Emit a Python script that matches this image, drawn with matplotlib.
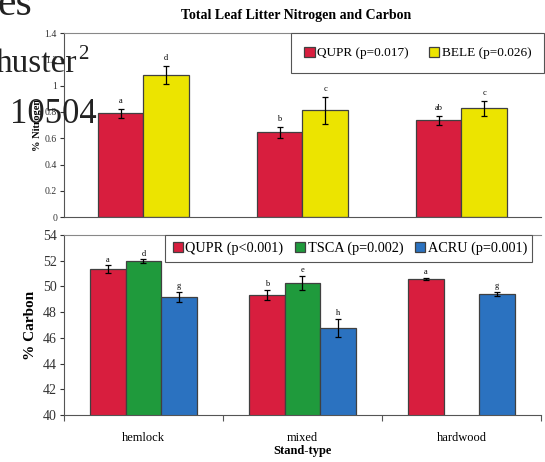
import matplotlib
matplotlib.use("Agg")
import matplotlib.pyplot as plt
from matplotlib.patches import Rectangle
import numpy as np

plt.rcParams['font.family'] = ['Liberation Serif', 'DejaVu Serif']

stands = ["hemlock", "mixed", "hardwood"]

# Nitrogen
n_qupr = [0.79, 0.647, 0.736]
n_qupr_err = [0.032, 0.042, 0.033]
n_bele = [1.082, 0.812, 0.827]
n_bele_err = [0.07, 0.10, 0.055]
n_qupr_let = ["a", "b", "ab"]
n_bele_let = ["d", "c", "c"]

# Carbon
c_qupr = [51.33, 49.36, 50.58]
c_qupr_err = [0.30, 0.40, 0.05]
c_tsca = [51.95, 50.24, np.nan]
c_tsca_err = [0.15, 0.55, np.nan]
c_acru = [49.2, 46.77, 49.41]
c_acru_err = [0.40, 0.73, 0.17]
c_qupr_let = ["a", "b", "a"]
c_tsca_let = ["d", "e", ""]
c_acru_let = ["g", "h", "g"]

red = "#d81e3e"
yellow = "#ece400"
green = "#1f9a3c"
blue = "#2b72c0"
edge = "#404040"

fig = plt.figure(figsize=(5.45, 4.62), dpi=100)
ax1 = fig.add_axes([0.1174, 0.530, 0.875, 0.3983])
ax2 = fig.add_axes([0.1174, 0.1017, 0.875, 0.3896])

x = np.arange(len(stands))
ekw = dict(ecolor="black", elinewidth=0.9, capsize=2.5, capthick=0.9)

# top chart
w1 = 0.287
ax1.bar(x - w1/2, n_qupr, w1, yerr=n_qupr_err, color=red, edgecolor=edge,
        linewidth=0.9, error_kw=ekw, label="QUPR (p=0.017)")
ax1.bar(x + w1/2, n_bele, w1, yerr=n_bele_err, color=yellow, edgecolor=edge,
        linewidth=0.9, error_kw=ekw, label="BELE (p=0.026)")
for xi, v, e, t in zip(x - w1/2, n_qupr, n_qupr_err, n_qupr_let):
    ax1.text(xi, v + e + 0.03, t, ha="center", va="bottom", fontsize=6)
for xi, v, e, t in zip(x + w1/2, n_bele, n_bele_err, n_bele_let):
    ax1.text(xi, v + e + 0.03, t, ha="center", va="bottom", fontsize=6)
ax1.set_xlim(-0.5, 2.5)
ax1.set_ylim(0, 1.4)
ax1.set_yticks(np.arange(0, 1.41, 0.2))
ax1.set_yticklabels(["0", "0.2", "0.4", "0.6", "0.8", "1", "1.2", "1.4"])
ax1.tick_params(axis="y", labelsize=7, length=3, width=0.8, pad=2, colors="#333333")
ax1.set_xticks([])
ax1.set_ylabel("% Nitrogen", fontsize=7.5, fontweight="bold", labelpad=2)
ax1.spines["right"].set_visible(False)
ax1.spines["top"].set_color("#888888")
ax1.spines["top"].set_linewidth(0.8)
for s in ["left", "bottom"]:
    ax1.spines[s].set_color("#555555")
    ax1.spines[s].set_linewidth(0.8)

# bottom chart
w2 = 0.224
ax2.bar(x - w2, c_qupr, w2, yerr=c_qupr_err, color=red, edgecolor=edge,
        linewidth=0.9, error_kw=ekw, label="QUPR (p<0.001)")
ax2.bar(x, c_tsca, w2, yerr=c_tsca_err, color=green, edgecolor=edge,
        linewidth=0.9, error_kw=ekw, label="TSCA (p=0.002)")
ax2.bar(x + w2, c_acru, w2, yerr=c_acru_err, color=blue, edgecolor=edge,
        linewidth=0.9, error_kw=ekw, label="ACRU (p=0.001)")
for off, vals, errs, lets in [(-w2, c_qupr, c_qupr_err, c_qupr_let),
                              (0, c_tsca, c_tsca_err, c_tsca_let),
                              (w2, c_acru, c_acru_err, c_acru_let)]:
    for xi, v, e, t in zip(x + off, vals, errs, lets):
        if t and not np.isnan(v):
            ax2.text(xi, v + e + 0.15, t, ha="center", va="bottom", fontsize=6)
ax2.set_xlim(-0.5, 2.5)
ax2.set_ylim(40, 54)
ax2.set_yticks(np.arange(40, 55, 2))
ax2.tick_params(axis="y", labelsize=10, length=3, width=0.8, pad=2, colors="#333333")
ax2.set_xticks([-0.5, 0.5, 1.5, 2.5])
ax2.set_xticklabels([])
ax2.set_xticks(x, minor=True)
ax2.set_xticklabels(stands, minor=True)
ax2.tick_params(axis="x", which="major", length=4, width=0.8, direction="out", colors="#555555")
ax2.tick_params(axis="x", which="minor", length=0, labelsize=9, pad=12)
ax2.set_xlabel("Stand-type", fontsize=9, fontweight="bold", labelpad=1)
ax2.set_ylabel("% Carbon", fontsize=11, fontweight="bold", labelpad=4)
ax2.spines["right"].set_visible(False)
ax2.spines["top"].set_color("#888888")
ax2.spines["top"].set_linewidth(0.8)
for s in ["left", "bottom"]:
    ax2.spines[s].set_color("#555555")
    ax2.spines[s].set_linewidth(0.8)

# legend boxes
for (bx, by, bw, bh) in [(0.534, 0.842, 0.464, 0.0866), (0.3028, 0.4329, 0.673, 0.0584)]:
    fig.add_artist(Rectangle((bx, by), bw, bh, transform=fig.transFigure,
                             facecolor="white", edgecolor="#555555", linewidth=0.8,
                             zorder=5))

h1, l1 = ax1.get_legend_handles_labels()
leg1 = fig.legend(h1, l1, loc="center", bbox_to_anchor=(0.767, 0.885), ncol=2,
                  fontsize=9.5, handlelength=0.8, handleheight=0.8, handletextpad=0.2,
                  columnspacing=1.5, frameon=False, borderaxespad=0)
leg1.set_zorder(6)
h2, l2 = ax2.get_legend_handles_labels()
leg2 = fig.legend(h2, l2, loc="center", bbox_to_anchor=(0.642, 0.462), ncol=3,
                  fontsize=10.3, handlelength=0.7, handleheight=0.7, handletextpad=0.2,
                  columnspacing=0.8, frameon=False, borderaxespad=0)
leg2.set_zorder(6)

fig.text(0.543, 0.966, "Total Leaf Litter Nitrogen and Carbon", ha="center",
         va="center", fontsize=10, fontweight="bold")

# overlaid text from the scanned page
fig.text(-0.005, 1 - 15/462, "es", fontsize=30, color="#222222", va="baseline", ha="left", zorder=10)
fig.text(-0.008, 1 - 72/462, "huster", fontsize=24, color="#222222", va="baseline", ha="left", zorder=10)
fig.text(78/545, 1 - 45/462, "2", fontsize=15, color="#222222", va="top", ha="left", zorder=10)
fig.text(10/545, 1 - 123/462, "10504", fontsize=25, color="#222222", va="baseline", ha="left", zorder=10)

fig.savefig("out.png", dpi=100)
